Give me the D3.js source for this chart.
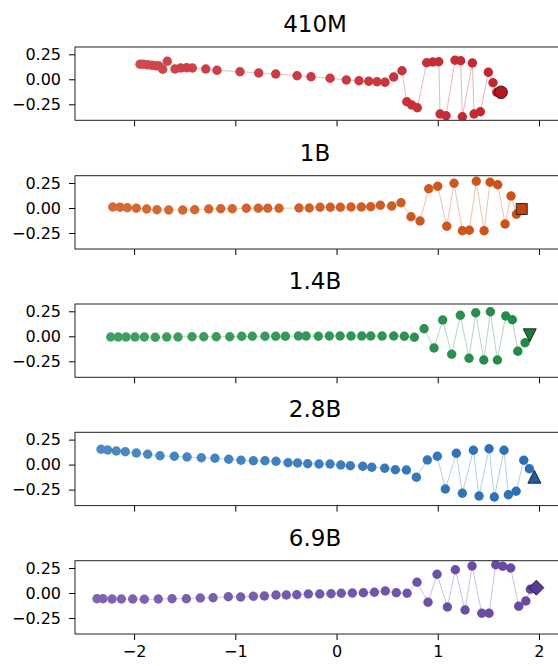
<!DOCTYPE html>
<html>
<head>
<meta charset="utf-8">
<script src="https://cdn.jsdelivr.net/npm/d3@7"></script>
<style>
html,body{margin:0;padding:0;background:#fff;}
svg{display:block;font-family:"DejaVu Sans",sans-serif;}
</style>
</head>
<body>
<svg id="chart" width="558" height="666"></svg>
<script>
// ---- data ----
const panelTitles = ["410M", "1B", "1.4B", "2.8B", "6.9B"];
const xTicks = [-2, -1, 0, 1, 2];
const yTicks = [0.25, 0.00, -0.25];

const x410M = [-1.942,-1.909,-1.870,-1.826,-1.784,-1.754,-1.717,-1.672,-1.596,-1.540,-1.480,-1.425,-1.292,-1.181,-0.954,-0.769,-0.601,-0.390,-0.252,-0.064,0.097,0.222,0.318,0.400,0.479,0.565,0.647,0.694,0.743,0.798,0.891,0.951,1.010,1.023,1.082,1.171,1.227,1.243,1.342,1.359,1.421,1.500,1.546,1.583,1.626];
const y410M = [0.150,0.150,0.146,0.140,0.136,0.133,0.100,0.180,0.103,0.113,0.116,0.113,0.103,0.090,0.076,0.063,0.053,0.036,0.025,0.010,-0.007,-0.014,-0.020,-0.024,-0.030,0.023,0.086,-0.224,-0.257,-0.284,0.166,0.173,0.176,-0.347,-0.364,0.190,0.186,-0.374,0.163,-0.347,-0.324,0.070,-0.034,-0.130,-0.130];

const x1B = [-2.211,-2.139,-2.067,-1.978,-1.876,-1.774,-1.658,-1.520,-1.401,-1.263,-1.144,-1.030,-0.891,-0.773,-0.680,-0.568,-0.371,-0.269,-0.163,-0.061,0.038,0.143,0.245,0.338,0.433,0.545,0.637,0.736,0.825,0.911,1.000,1.089,1.161,1.243,1.312,1.381,1.458,1.517,1.593,1.665,1.724,1.777,1.830];
const y1B = [0.010,0.007,0.003,-0.003,-0.010,-0.017,-0.020,-0.020,-0.017,-0.010,-0.007,-0.007,-0.003,-0.003,-0.003,-0.003,0.000,0.000,0.007,0.007,0.007,0.010,0.010,0.013,0.027,0.020,0.053,-0.087,-0.130,0.193,0.217,-0.183,0.247,-0.227,-0.223,0.267,-0.227,0.257,0.233,-0.160,0.120,-0.063,-0.010];

const x1_4B = [-2.231,-2.156,-2.080,-1.991,-1.899,-1.791,-1.678,-1.566,-1.428,-1.312,-1.188,-1.055,-0.937,-0.832,-0.707,-0.601,-0.506,-0.377,-0.301,-0.180,-0.071,0.035,0.143,0.249,0.338,0.450,0.565,0.670,0.769,0.865,0.963,1.049,1.138,1.223,1.309,1.375,1.455,1.520,1.589,1.672,1.737,1.791,1.863,1.909];
const y1_4B = [-0.007,-0.007,-0.007,-0.007,-0.007,-0.010,-0.007,-0.007,-0.004,-0.004,-0.004,-0.004,0.000,0.000,0.000,0.000,0.000,0.003,0.003,0.000,0.003,0.003,0.003,0.003,0.003,0.003,0.003,0.000,-0.010,0.076,-0.117,0.163,-0.180,0.210,-0.220,0.236,-0.237,0.246,-0.237,0.203,0.166,-0.150,-0.064,0.010];

const x2_8B = [-2.327,-2.261,-2.176,-2.087,-1.978,-1.866,-1.744,-1.603,-1.477,-1.336,-1.201,-1.065,-0.944,-0.822,-0.707,-0.598,-0.479,-0.385,-0.285,-0.173,-0.064,0.042,0.136,0.259,0.348,0.476,0.581,0.690,0.789,0.897,0.996,1.075,1.184,1.243,1.352,1.408,1.507,1.559,1.655,1.698,1.774,1.850,1.905,1.955];
const y2_8B = [0.153,0.146,0.136,0.129,0.116,0.103,0.089,0.083,0.076,0.069,0.063,0.053,0.043,0.039,0.039,0.033,0.019,0.016,0.008,0.006,0.006,-0.004,-0.011,-0.017,-0.027,-0.037,-0.051,-0.054,-0.127,0.046,0.083,-0.244,0.113,-0.287,0.143,-0.314,0.159,-0.324,0.143,-0.301,-0.267,0.043,-0.041,-0.121];

const x6_9B = [-2.367,-2.307,-2.218,-2.126,-2.014,-1.899,-1.761,-1.625,-1.484,-1.346,-1.220,-1.069,-0.947,-0.822,-0.713,-0.598,-0.496,-0.393,-0.279,-0.166,-0.054,0.047,0.156,0.265,0.374,0.482,0.591,0.697,0.795,0.904,0.993,1.095,1.174,1.270,1.339,1.435,1.507,1.573,1.642,1.721,1.800,1.870,1.915,1.974];
const y6_9B = [-0.057,-0.057,-0.060,-0.060,-0.060,-0.063,-0.060,-0.057,-0.057,-0.050,-0.047,-0.037,-0.040,-0.033,-0.030,-0.020,-0.020,-0.017,-0.010,-0.010,-0.007,-0.003,0.000,0.003,0.007,0.020,0.003,-0.003,0.107,-0.093,0.187,-0.140,0.233,-0.170,0.270,-0.203,-0.203,0.283,0.267,0.250,-0.133,-0.080,0.037,0.053];

const seriesX = [x410M, x1B, x1_4B, x2_8B, x6_9B];
const seriesY = [y410M, y1B, y1_4B, y2_8B, y6_9B];

// ---- style ----
const colorsStart = ["#d04a4e", "#d56c34", "#42a062", "#4d8ac4", "#7f65b2"];
const colorsEnd   = ["#c2242c", "#ca5016", "#218a48", "#2a6db4", "#6747a2"];
const endFill     = ["#b8161c", "#c0440d", "#1b7a3a", "#1f5e9f", "#5a3998"];
const endSymbols  = ["circle", "square", "tri-down", "tri-up", "diamond"];

const svg = d3.select("#chart");
const axLeft = 75, axRight = 559;
const panelTops = [47, 175.7, 304, 432.3, 560.7];
const panelH = 73.3;

const x = d3.scaleLinear().domain([-2.584, 2.198]).range([axLeft, axRight]);

function fmtTick(v) {
  return d3.format(".2f")(v).replace("-", "\u2212");
}

panelTitles.forEach((title, i) => {
  const top = panelTops[i];
  const y = d3.scaleLinear().domain([-0.41, 0.323]).range([top + panelH, top]);
  const g = svg.append("g");
  const xs = seriesX[i], ys = seriesY[i];
  const n = xs.length;
  const col = d3.interpolateRgb(colorsStart[i], colorsEnd[i]);

  // title
  g.append("text")
    .attr("x", 315)
    .attr("y", top - 15)
    .attr("text-anchor", "middle")
    .attr("font-size", "23px")
    .attr("fill", "#000")
    .text(title);

  // clip
  const clipId = "clip" + i;
  svg.append("clipPath").attr("id", clipId)
    .append("rect").attr("x", axLeft).attr("y", top).attr("width", axRight - axLeft).attr("height", panelH);

  const plot = g.append("g").attr("clip-path", `url(#${clipId})`);

  // connecting segments
  for (let k = 0; k < n - 1; k++) {
    plot.append("line")
      .attr("x1", x(xs[k])).attr("y1", y(ys[k]))
      .attr("x2", x(xs[k + 1])).attr("y2", y(ys[k + 1]))
      .attr("stroke", col(k / (n - 1)))
      .attr("stroke-opacity", 0.4)
      .attr("stroke-width", 0.9);
  }

  // points (all but last)
  plot.selectAll("circle.pt")
    .data(d3.range(n - 1))
    .join("circle")
    .attr("class", "pt")
    .attr("cx", k => x(xs[k]))
    .attr("cy", k => y(ys[k]))
    .attr("r", 4.7)
    .attr("fill", k => col(k / (n - 1)));

  // end marker
  const ex = x(xs[n - 1]), ey = y(ys[n - 1]);
  let path;
  const sym = endSymbols[i];
  if (sym === "tri-down") {
    const s = 6.5;
    path = `M${-s},${-s}L${s},${-s}L0,${s}Z`;
  } else if (sym === "tri-up") {
    const s = 6.5;
    path = `M0,${-s}L${s},${s}L${-s},${s}Z`;
  } else if (sym === "diamond") {
    const s = 7.5;
    path = `M0,${-s}L${s},0L0,${s}L${-s},0Z`;
  } else if (sym === "square") {
    path = d3.symbol().type(d3.symbolSquare).size(121)();
  } else {
    path = d3.symbol().type(d3.symbolCircle).size(Math.PI * 6.3 * 6.3)();
  }
  plot.append("path")
    .attr("d", path)
    .attr("transform", `translate(${ex},${ey})`)
    .attr("fill", endFill[i])
    .attr("stroke", "#1a1a1a")
    .attr("stroke-width", 0.9);

  // y axis
  const yAxis = d3.axisLeft(y).tickValues(yTicks).tickSize(6).tickPadding(8).tickFormat(fmtTick);
  const ya = g.append("g").attr("transform", `translate(${axLeft},0)`).call(yAxis);
  ya.select(".domain").remove();
  ya.selectAll("text").attr("font-size", "16px").attr("fill", "#000").attr("font-family", "DejaVu Sans, sans-serif");
  ya.selectAll("line").attr("stroke", "#000").attr("stroke-width", 1);

  // x axis (ticks on every panel, labels only on last)
  const xAxis = d3.axisBottom(x).tickValues(xTicks).tickSize(6).tickPadding(6)
    .tickFormat(i === panelTitles.length - 1 ? (v => String(v).replace("-", "\u2212")) : () => "");
  const xa = g.append("g").attr("transform", `translate(0,${top + panelH})`).call(xAxis);
  xa.select(".domain").remove();
  xa.selectAll("text").attr("font-size", "16px").attr("fill", "#000").attr("font-family", "DejaVu Sans, sans-serif");
  xa.selectAll("line").attr("stroke", "#000").attr("stroke-width", 1);

  // frame
  g.append("rect")
    .attr("x", axLeft).attr("y", top)
    .attr("width", axRight - axLeft).attr("height", panelH)
    .attr("fill", "none").attr("stroke", "#222").attr("stroke-width", 1);
});
</script>
</body>
</html>
